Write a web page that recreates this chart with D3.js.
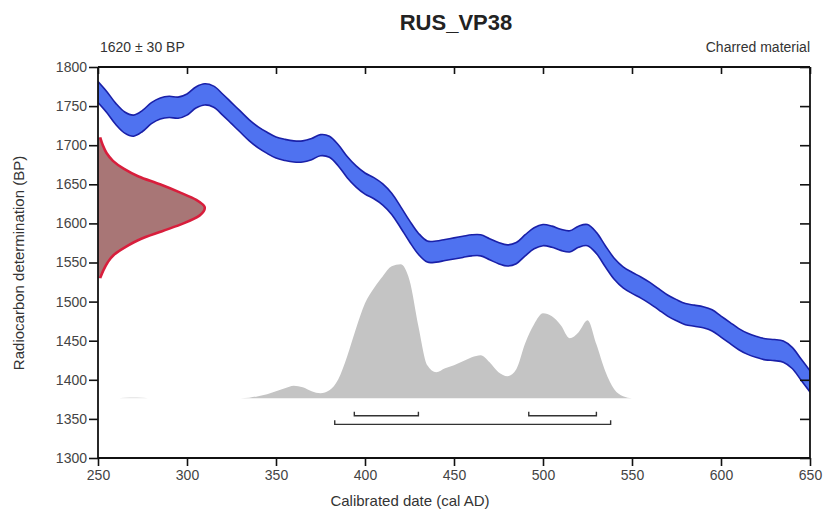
<!DOCTYPE html>
<html><head><meta charset="utf-8">
<script src="https://cdn.jsdelivr.net/npm/d3@7"></script>
<style>
body{margin:0;background:#fff;}
svg{display:block;font-family:"Liberation Sans",Arial,sans-serif;}
</style></head>
<body>
<svg id="chart" width="824" height="519"></svg>
<script>
// ---- data ----
const title = "RUS_VP38";
const dateLabel = "1620 ± 30 BP";
const materialLabel = "Charred material";
const xTicks = [250,300,350,400,450,500,550,600,650];
const yTicks = [1300,1350,1400,1450,1500,1550,1600,1650,1700,1750,1800];

// calibration curve (cal AD -> BP centre), band half-width
const curveYears = [250,255,260,265,270,275,280,285,290,295,300,305,310,315,320,325,330,335,340,345,350,355,360,365,370,375,380,385,390,395,400,405,410,415,420,425,430,435,440,445,450,455,460,465,470,475,480,485,490,495,500,505,510,515,520,525,530,535,540,545,550,555,560,565,570,575,580,585,590,595,600,605,610,615,620,625,630,635,640,645,650];
const curveBP = [1768,1755,1740,1729,1725,1731,1741,1747,1749,1748,1752,1761,1765,1762,1752,1741,1730,1719,1710,1703,1697,1694,1692,1692,1695,1700,1698,1687,1672,1660,1651,1645,1637,1625,1608,1590,1574,1564,1564,1566,1568,1570,1572,1572,1567,1562,1559,1562,1572,1581,1585,1583,1579,1577,1583,1585,1575,1558,1542,1531,1524,1518,1511,1503,1495,1489,1484,1482,1480,1476,1468,1460,1452,1446,1442,1439,1438,1436,1428,1413,1398];
const curveErr = 13.5;

// radiocarbon date distribution (BP -> relative probability)
const c14BP   = [1530,1540,1550,1560,1570,1580,1590,1600,1610,1620,1630,1640,1650,1660,1670,1680,1690,1700,1710];
const c14Prob = [0.02,0.05,0.09,0.15,0.26,0.40,0.60,0.80,0.95,1.00,0.92,0.76,0.58,0.38,0.24,0.14,0.08,0.045,0.02];

// calibrated distribution (cal AD -> relative probability)
const calYears = [330,335,340,345,350,355,360,365,370,375,380,385,390,395,400,405,410,415,420,425,430,435,440,445,450,455,460,465,470,475,480,485,490,495,500,505,510,515,520,525,530,535,540,545,550];
const calProb  = [0,0.5,2,4,7,10,12.5,11,7,5,8,19,42,70,95,110,122,132,134,118,72,33,26,30,33,37,41,43,36,26,22,29,55,74,85,82,73,60,66,78,54,27,9,2,0];
const calTinyYears = [262,266,270,274,278];
const calTinyProb  = [0,0.6,0.9,0.6,0];

// ranges (cal AD): 68.2% and 95.4%
const range68 = [[394,430],[492,530]];
const range95 = [[383,538]];

// ---- layout ----
const svg = d3.select("#chart");
const m = {left:98, right:810, top:67, bottom:458};
const x = d3.scaleLinear().domain([250,650]).range([m.left,m.right]);
const y = d3.scaleLinear().domain([1300,1800]).range([m.bottom,m.top]);
const baseBP = 1376.5;
const pH = d3.scaleLinear().domain([0,135]).range([0,135]);
const rW = d3.scaleLinear().domain([0,1]).range([0,60]); // in years

svg.append("defs").append("clipPath").attr("id","clip")
  .append("rect").attr("x",m.left).attr("y",m.top).attr("width",m.right-m.left).attr("height",m.bottom-m.top);
const g = svg.append("g").attr("clip-path","url(#clip)");

// calibrated distribution
const calData = calYears.map((d,i)=>({x:d,p:calProb[i]}));
const area = d3.area().x(d=>x(d.x)).y0(y(baseBP)).y1(d=>y(baseBP)-pH(d.p)).curve(d3.curveMonotoneX);
g.append("path").datum(calData).attr("d",area).attr("fill","#c4c4c4");
g.append("path").datum(calTinyYears.map((d,i)=>({x:d,p:calTinyProb[i]}))).attr("d",area).attr("fill","#e2e2e2");

// calibration curve band
const band = curveYears.map((d,i)=>({x:d,c:curveBP[i]}));
g.append("path").datum(band)
  .attr("d", d3.area().x(d=>x(d.x)).y0(d=>y(d.c-curveErr)).y1(d=>y(d.c+curveErr)).curve(d3.curveCatmullRom))
  .attr("fill","#4f72f0").attr("stroke","#1a20a8").attr("stroke-width",1.6).attr("stroke-linejoin","round");

// radiocarbon distribution
const c14 = c14BP.map((d,i)=>({bp:d,p:c14Prob[i]}));
g.append("path").datum(c14)
  .attr("d", d3.area().y(d=>y(d.bp)).x0(x(250)).x1(d=>x(250+rW(d.p))).curve(d3.curveMonotoneY))
  .attr("fill","#a87676");
g.append("path").datum(c14)
  .attr("d", d3.line().y(d=>y(d.bp)).x(d=>x(250+rW(d.p))).curve(d3.curveMonotoneY))
  .attr("fill","none").attr("stroke","#d81e3c").attr("stroke-width",2.6);

// range brackets
function bracket(ranges, bp){
  ranges.forEach(r=>{
    const yy = y(bp);
    svg.append("path")
      .attr("d",`M${x(r[0])},${yy-4}V${yy}H${x(r[1])}V${yy-4}`)
      .attr("fill","none").attr("stroke","#333").attr("stroke-width",1.4);
  });
}
bracket(range68, 1354);
bracket(range95, 1343);

// axes
const axisCol = "#111";
const axLeft = svg.append("g").attr("transform",`translate(${m.left},0)`)
  .call(d3.axisLeft(y).tickValues(yTicks).tickSize(9).tickPadding(2).tickFormat(d3.format("d")));
const axBottom = svg.append("g").attr("transform",`translate(0,${m.bottom})`)
  .call(d3.axisBottom(x).tickValues(xTicks).tickSize(8).tickPadding(4).tickFormat(d3.format("d")));
const axTop = svg.append("g").attr("transform",`translate(0,${m.top})`)
  .call(d3.axisTop(x).tickValues(xTicks).tickSize(-7).tickFormat(""));
const axRight = svg.append("g").attr("transform",`translate(${m.right},0)`)
  .call(d3.axisRight(y).tickValues(yTicks).tickSize(-10).tickFormat(""));
[axLeft,axBottom,axTop,axRight].forEach(a=>{
  a.select(".domain").attr("stroke",axisCol).attr("stroke-width",1.8);
  a.selectAll(".tick line").attr("stroke",axisCol).attr("stroke-width",1.6);
  a.selectAll(".tick text").attr("fill","#444").attr("font-size","14px").attr("font-family","Liberation Sans, Arial, sans-serif");
});
axLeft.select(".domain").attr("d",`M0,${m.bottom}V${m.top}`);
axRight.select(".domain").attr("d",`M0,${m.bottom}V${m.top}`);
axTop.select(".domain").attr("d",`M${m.left},0H${m.right}`);
axBottom.select(".domain").attr("d",`M${m.left},0H${m.right}`);

// texts
svg.append("text").attr("x",456).attr("y",30).attr("text-anchor","middle")
  .attr("font-size","22px").attr("font-weight","bold").attr("fill","#222").text(title);
svg.append("text").attr("x",100).attr("y",52).attr("font-size","14px").attr("fill","#333").text(dateLabel);
svg.append("text").attr("x",810).attr("y",52).attr("text-anchor","end").attr("font-size","14px").attr("fill","#333").text(materialLabel);
svg.append("text").attr("x",410).attr("y",506).attr("text-anchor","middle").attr("font-size","15px").attr("fill","#333").text("Calibrated date (cal AD)");
svg.append("text").attr("transform","translate(24,263) rotate(-90)").attr("text-anchor","middle")
  .attr("font-size","15px").attr("fill","#333").text("Radiocarbon determination (BP)");
</script>
</body></html>
